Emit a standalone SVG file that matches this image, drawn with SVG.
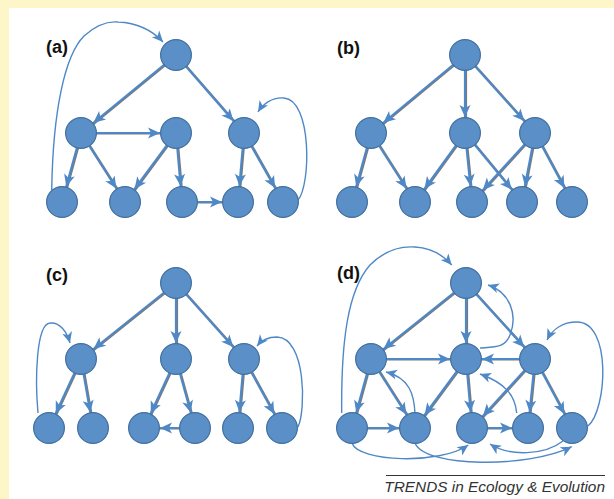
<svg xmlns="http://www.w3.org/2000/svg" xmlns:xlink="http://www.w3.org/1999/xlink" width="614" height="499" viewBox="0 0 614 499">
<style>
.node{fill:#5B8FC7;stroke:#42709F;stroke-width:1.2}
.sh{stroke:#7a7a7a;stroke-width:2;fill:none}
.st{stroke:#4F88C6;stroke-width:2.2;fill:none;marker-end:url(#ah)}
.cv{stroke:#4F88C6;stroke-width:1.4;fill:none;marker-end:url(#ahc)}
.lbl{font-family:"Liberation Sans",Arial,sans-serif;font-weight:bold;font-size:18px;fill:#111}
.foot{font-family:"Liberation Sans",Arial,sans-serif;font-style:italic;font-size:15.4px;fill:#333}
</style>
<defs>
<marker id="ah" markerUnits="userSpaceOnUse" orient="auto" markerWidth="60" markerHeight="60" viewBox="-30 -30 60 60" refX="0" refY="0" overflow="visible">
<path d="M-16,0 L-28,-5.5 L-25,0 L-28,5.5 Z" fill="#4F88C6"/>
</marker>
<marker id="ahc" markerUnits="userSpaceOnUse" orient="auto" markerWidth="30" markerHeight="30" viewBox="-15 -15 30 30" refX="0" refY="0" overflow="visible">
<path d="M0,0 L-11,-5 L-8,0 L-11,5 Z" fill="#4F88C6"/>
</marker>
<g id="straight">
<!-- a -->
<line x1="176" y1="55" x2="81" y2="133"/>
<line x1="176" y1="55" x2="244" y2="133"/>
<line x1="81" y1="133" x2="176" y2="133"/>
<line x1="81" y1="133" x2="62" y2="202"/>
<line x1="81" y1="133" x2="125" y2="202"/>
<line x1="176" y1="133" x2="125" y2="202"/>
<line x1="176" y1="133" x2="182" y2="202"/>
<line x1="244" y1="133" x2="238" y2="202"/>
<line x1="244" y1="133" x2="283" y2="202"/>
<line x1="182" y1="202" x2="238" y2="202"/>
<!-- b -->
<line x1="465" y1="55" x2="371" y2="133"/>
<line x1="465" y1="55" x2="465" y2="133"/>
<line x1="465" y1="55" x2="535" y2="133"/>
<line x1="371" y1="133" x2="352" y2="202"/>
<line x1="371" y1="133" x2="415" y2="202"/>
<line x1="465" y1="133" x2="415" y2="202"/>
<line x1="465" y1="133" x2="472" y2="202"/>
<line x1="465" y1="133" x2="522" y2="202"/>
<line x1="535" y1="133" x2="472" y2="202"/>
<line x1="535" y1="133" x2="522" y2="202"/>
<line x1="535" y1="133" x2="572" y2="202"/>
<!-- c -->
<line x1="176" y1="283" x2="81" y2="359"/>
<line x1="176" y1="283" x2="176" y2="359"/>
<line x1="176" y1="283" x2="244" y2="359"/>
<line x1="81" y1="359" x2="49" y2="428"/>
<line x1="81" y1="359" x2="93" y2="428"/>
<line x1="176" y1="359" x2="144" y2="428"/>
<line x1="176" y1="359" x2="195" y2="428"/>
<line x1="244" y1="359" x2="238" y2="428"/>
<line x1="244" y1="359" x2="282" y2="428"/>
<line x1="195" y1="428" x2="144" y2="428"/>
<!-- d -->
<line x1="466" y1="283" x2="371" y2="359"/>
<line x1="466" y1="283" x2="466" y2="359"/>
<line x1="466" y1="283" x2="535" y2="359"/>
<line x1="371" y1="359" x2="466" y2="359"/>
<line x1="535" y1="359" x2="466" y2="359"/>
<line x1="371" y1="359" x2="352" y2="428"/>
<line x1="371" y1="359" x2="415" y2="428"/>
<line x1="466" y1="359" x2="415" y2="428"/>
<line x1="466" y1="359" x2="472" y2="428"/>
<line x1="535" y1="359" x2="472" y2="428"/>
<line x1="535" y1="359" x2="528" y2="428"/>
<line x1="535" y1="359" x2="572" y2="428"/>
<line x1="352" y1="428" x2="415" y2="428"/>
<line x1="472" y1="428" x2="528" y2="428"/>
</g>
</defs>
<rect x="0" y="0" width="614" height="499" fill="#FCF6C8"/>
<rect x="9" y="8" width="605" height="491" fill="#FFFFFF"/>
<g id="connectors">
<use xlink:href="#straight" class="sh" transform="translate(1.1,0.4)"/>
<use xlink:href="#straight" class="st"/>
<!-- curves a -->
<path class="cv" d="M51.7,190 C53,110 65,55 84,36 C95,26 106,21 118,22 C138,23 152,30 163,42"/>
<path class="cv" d="M298,200 C311,185 312,100 284,98 C272,97 263,104 258,112"/>
<!-- curves c -->
<path class="cv" d="M38,413 C35,380 36,324 50,323 C60,322 67,332 70,343"/>
<path class="cv" d="M298,427 C306,410 306,338 277,337 C268,337 261,341 257,346"/>
<!-- curves d -->
<path class="cv" d="M341.7,413 C341,340 348,290 370,265 C385,250 400,246 415,247 C432,248 444,256 451.7,265"/>
<path class="cv" d="M480,348 C495,347 505,348 510,335 C518,315 510,292 488,285"/>
<path class="cv" d="M588,426 C607,410 612,322 577,322 C562,322 552,330 547,340"/>
<path class="cv" d="M415,413 C414,395 410,378 386,372"/>
<path class="cv" d="M516.7,413 C515,395 505,383 480,374"/>
<path class="cv" d="M352,443 C358,462 440,465 468.3,445"/>
<path class="cv" d="M415,443 C425,468 530,468 571.7,446.7"/>
<path class="cv" d="M563,441 C545,455 510,457 490,444"/>
</g>
<g id="a-n1"><circle class="node" cx="176" cy="55" r="15.4"/></g>
<g id="a-n2"><circle class="node" cx="81" cy="133" r="15.4"/></g>
<g id="a-n3"><circle class="node" cx="176" cy="133" r="15.4"/></g>
<g id="a-n4"><circle class="node" cx="244" cy="133" r="15.4"/></g>
<g id="a-n5"><circle class="node" cx="62" cy="202" r="15.4"/></g>
<g id="a-n6"><circle class="node" cx="125" cy="202" r="15.4"/></g>
<g id="a-n7"><circle class="node" cx="182" cy="202" r="15.4"/></g>
<g id="a-n8"><circle class="node" cx="238" cy="202" r="15.4"/></g>
<g id="a-n9"><circle class="node" cx="283" cy="202" r="15.4"/></g>
<g id="b-n1"><circle class="node" cx="465" cy="55" r="15.4"/></g>
<g id="b-n2"><circle class="node" cx="371" cy="133" r="15.4"/></g>
<g id="b-n3"><circle class="node" cx="465" cy="133" r="15.4"/></g>
<g id="b-n4"><circle class="node" cx="535" cy="133" r="15.4"/></g>
<g id="b-n5"><circle class="node" cx="352" cy="202" r="15.4"/></g>
<g id="b-n6"><circle class="node" cx="415" cy="202" r="15.4"/></g>
<g id="b-n7"><circle class="node" cx="472" cy="202" r="15.4"/></g>
<g id="b-n8"><circle class="node" cx="522" cy="202" r="15.4"/></g>
<g id="b-n9"><circle class="node" cx="572" cy="202" r="15.4"/></g>
<g id="c-n1"><circle class="node" cx="176" cy="283" r="15.4"/></g>
<g id="c-n2"><circle class="node" cx="81" cy="359" r="15.4"/></g>
<g id="c-n3"><circle class="node" cx="176" cy="359" r="15.4"/></g>
<g id="c-n4"><circle class="node" cx="244" cy="359" r="15.4"/></g>
<g id="c-n5"><circle class="node" cx="49" cy="428" r="15.4"/></g>
<g id="c-n6"><circle class="node" cx="93" cy="428" r="15.4"/></g>
<g id="c-n7"><circle class="node" cx="144" cy="428" r="15.4"/></g>
<g id="c-n8"><circle class="node" cx="195" cy="428" r="15.4"/></g>
<g id="c-n9"><circle class="node" cx="238" cy="428" r="15.4"/></g>
<g id="c-n10"><circle class="node" cx="282" cy="428" r="15.4"/></g>
<g id="d-n1"><circle class="node" cx="466" cy="283" r="15.4"/></g>
<g id="d-n2"><circle class="node" cx="371" cy="359" r="15.4"/></g>
<g id="d-n3"><circle class="node" cx="466" cy="359" r="15.4"/></g>
<g id="d-n4"><circle class="node" cx="535" cy="359" r="15.4"/></g>
<g id="d-n5"><circle class="node" cx="352" cy="428" r="15.4"/></g>
<g id="d-n6"><circle class="node" cx="415" cy="428" r="15.4"/></g>
<g id="d-n7"><circle class="node" cx="472" cy="428" r="15.4"/></g>
<g id="d-n8"><circle class="node" cx="528" cy="428" r="15.4"/></g>
<g id="d-n9"><circle class="node" cx="572" cy="428" r="15.4"/></g>
<text class="lbl" x="46" y="53">(a)</text>
<text class="lbl" x="337" y="54">(b)</text>
<text class="lbl" x="46" y="281">(c)</text>
<text class="lbl" x="337" y="279">(d)</text>
<line x1="386" y1="475.5" x2="605" y2="475.5" stroke="#333" stroke-width="1"/>
<text class="foot" x="605" y="492" text-anchor="end">TRENDS in Ecology &amp; Evolution</text>
</svg>
